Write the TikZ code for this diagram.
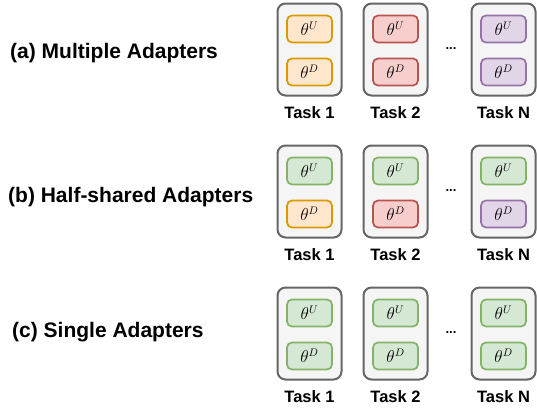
\documentclass[tikz,border=0pt]{standalone}
\usepackage{fontspec}
\setmainfont{Liberation Sans}
\definecolor{outerfill}{HTML}{F5F5F5}
\definecolor{outerline}{HTML}{666666}
\definecolor{orfill}{HTML}{FFE6CC}
\definecolor{orline}{HTML}{D79B00}
\definecolor{rdfill}{HTML}{F8CECC}
\definecolor{rdline}{HTML}{B85450}
\definecolor{pufill}{HTML}{E1D5E7}
\definecolor{puline}{HTML}{9673A6}
\definecolor{grfill}{HTML}{D5E8D4}
\definecolor{grline}{HTML}{82B366}
\tikzset{
  outerbox/.style={draw=outerline, fill=outerfill, line width=2pt, rounded corners=8pt, minimum width=64pt, minimum height=92pt, inner sep=0pt},
  adbox/.style={line width=1.7pt, rounded corners=5pt, minimum width=45pt, minimum height=27pt, inner sep=0pt, font=\fontsize{16}{19}\selectfont},
  orbox/.style={adbox, draw=orline, fill=orfill},
  rdbox/.style={adbox, draw=rdline, fill=rdfill},
  pubox/.style={adbox, draw=puline, fill=pufill},
  grbox/.style={adbox, draw=grline, fill=grfill},
  tasklbl/.style={font=\fontsize{16.5}{20}\selectfont\bfseries, inner sep=0pt},
  rowlbl/.style={font=\fontsize{21}{25}\selectfont\bfseries, inner sep=0pt, anchor=west},
  dotslbl/.style={font=\fontsize{13}{15}\selectfont\bfseries, inner sep=0pt},
}
\newcommand{\adrow}[8]{%
  \node[outerbox] (#1o1) at (309.5,#2+46.5) {};
  \node[outerbox] (#1o2) at (395.5,#2+46.5) {};
  \node[outerbox] (#1o3) at (503.5,#2+46.5) {};
  \node[#3] (#1u1) at (309.5,#2+26) {$\theta^U$};
  \node[#4] (#1d1) at (309.5,#2+69) {$\theta^D$};
  \node[#5] (#1u2) at (395.5,#2+26) {$\theta^U$};
  \node[#6] (#1d2) at (395.5,#2+69) {$\theta^D$};
  \node[#7] (#1u3) at (503.5,#2+26) {$\theta^U$};
  \node[#8] (#1d3) at (503.5,#2+69) {$\theta^D$};
  \node[tasklbl] (#1t1) at (309.5,#2+110) {Task 1};
  \node[tasklbl] (#1t2) at (395.5,#2+110) {Task 2};
  \node[tasklbl] (#1t3) at (503.5,#2+110) {Task N};
  \node[dotslbl] (#1dots) at (451,#2+46) {...};
}
\begin{document}
\begin{tikzpicture}[x=1pt,y=-1pt]
\useasboundingbox (0,0) rectangle (537,408);
\adrow{a}{3}{orbox}{orbox}{rdbox}{rdbox}{pubox}{pubox}
\adrow{b}{145}{grbox}{orbox}{grbox}{rdbox}{grbox}{pubox}
\adrow{c}{287}{grbox}{grbox}{grbox}{grbox}{grbox}{grbox}
\node[rowlbl] (la) at (10,53) {(a) Multiple Adapters};
\node[rowlbl] (lb) at (8,197) {(b) Half-shared Adapters};
\node[rowlbl] (lc) at (12,332) {(c) Single Adapters};
\end{tikzpicture}
\end{document}
